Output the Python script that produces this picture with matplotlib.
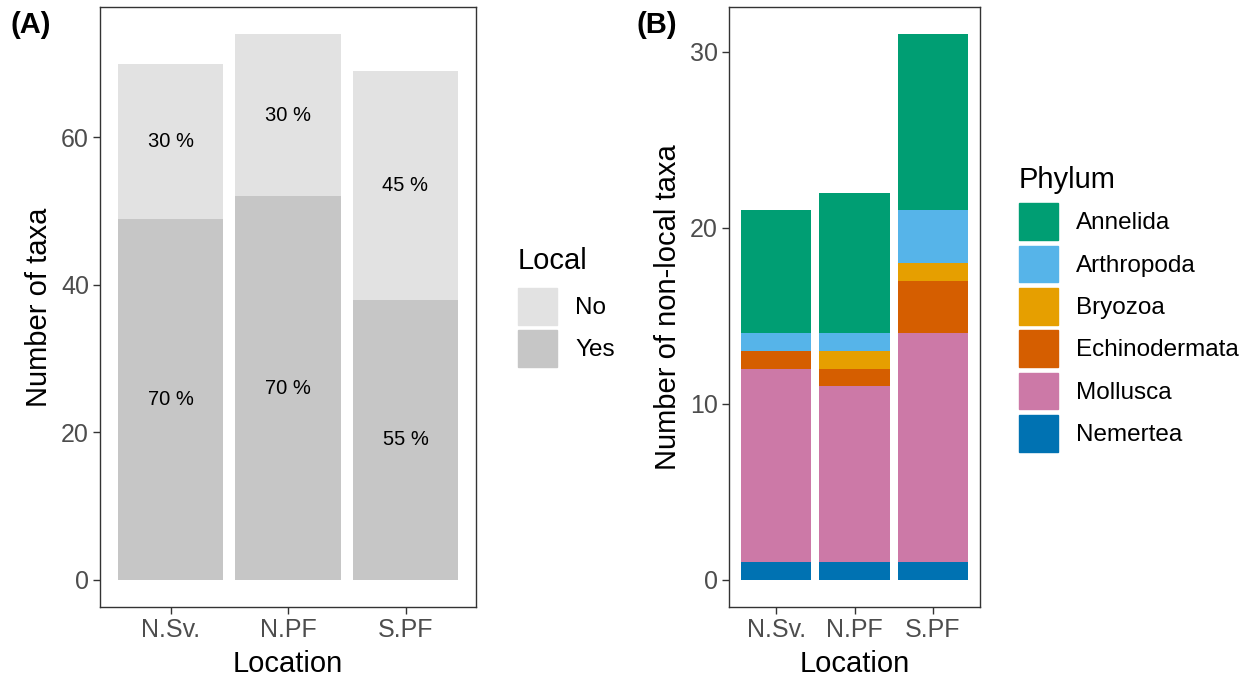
import matplotlib.pyplot as plt
import matplotlib.patches as mpatches
import numpy as np

plt.rcParams['font.family'] = ['Liberation Sans', 'DejaVu Sans']

# ---------- data ----------
locations = ["N.Sv.", "N.PF", "S.PF"]
local_yes = [49, 52, 38]
local_no = [21, 22, 31]

phyla = ["Annelida", "Arthropoda", "Bryozoa", "Echinodermata", "Mollusca", "Nemertea"]
phylum_counts = {
    "Annelida":      [7, 8, 10],
    "Arthropoda":    [1, 1, 3],
    "Bryozoa":       [0, 1, 1],
    "Echinodermata": [1, 1, 3],
    "Mollusca":      [11, 10, 13],
    "Nemertea":      [1, 1, 1],
}
phylum_colors = {
    "Annelida": "#009E73",
    "Arthropoda": "#56B4E9",
    "Bryozoa": "#E69F00",
    "Echinodermata": "#D55E00",
    "Mollusca": "#CC79A7",
    "Nemertea": "#0072B2",
}
col_yes = "#C6C6C6"
col_no = "#E2E2E2"

tick_col = "#4D4D4D"


def style_axes(ax, ylabel):
    for s in ax.spines.values():
        s.set_color("#333333")
        s.set_linewidth(1.0)
    ax.tick_params(axis="both", colors="#333333", labelcolor=tick_col,
                   labelsize=18, length=5, width=1, pad=3)
    ax.set_xlabel("Location", fontsize=21, labelpad=6)
    ax.set_ylabel(ylabel, fontsize=21, labelpad=6)
    ax.set_xlim(0.4, 3.6)


def add_legend(ax, handles, title, x0, y_title, y_keys):
    # ggplot-like legend: title placed separately above the keys
    ax.legend(handles=handles, loc="upper left", bbox_to_anchor=(x0, y_keys),
              frameon=False, fontsize=17.5, handlelength=1.6, handleheight=1.95,
              labelspacing=0.23, handletextpad=0.75, borderaxespad=0, borderpad=0)
    ax.text(x0, y_title, title, transform=ax.transAxes, fontsize=21,
            ha="left", va="top")


fig = plt.figure(figsize=(12.49, 6.78), dpi=100)
W, H = 1249, 678

# ---------- (A) local vs non-local ----------
axA = fig.add_axes([100 / W, 1 - 607 / H, 376 / W, 600 / H])
x = np.arange(1, len(locations) + 1)
axA.bar(x, local_yes, width=0.9, color=col_yes)
axA.bar(x, local_no, width=0.9, bottom=local_yes, color=col_no)
for xi, y, n in zip(x, local_yes, local_no):
    tot = y + n
    axA.text(xi, y / 2, f"{round(100 * y / tot)} %", ha="center", va="center", fontsize=14.5)
    axA.text(xi, y + n / 2, f"{round(100 * n / tot)} %", ha="center", va="center", fontsize=14.5)
top = max(a + b for a, b in zip(local_yes, local_no))
axA.set_ylim(-0.05 * top, 1.05 * top)
axA.set_yticks([0, 20, 40, 60])
axA.set_xticks(x)
axA.set_xticklabels(locations)
style_axes(axA, "Number of taxa")

add_legend(axA,
           [mpatches.Patch(color=col_no, label="No"),
            mpatches.Patch(color=col_yes, label="Yes")],
           "Local", 1.112, 0.600, 0.532)

# ---------- (B) non-local taxa by phylum ----------
axB = fig.add_axes([729 / W, 1 - 607 / H, 251 / W, 600 / H])
bottom = np.zeros(len(locations))
for ph in reversed(phyla):
    vals = np.array(phylum_counts[ph])
    axB.bar(x, vals, width=0.9, bottom=bottom, color=phylum_colors[ph])
    bottom += vals
topB = bottom.max()
axB.set_ylim(-0.05 * topB, 1.05 * topB)
axB.set_yticks([0, 10, 20, 30])
axB.set_xticks(x)
axB.set_xticklabels(locations)
style_axes(axB, "Number of non-local taxa")

add_legend(axB,
           [mpatches.Patch(color=phylum_colors[p], label=p) for p in phyla],
           "Phylum", 1.155, 0.735, 0.673)

# ---------- panel labels ----------
fig.text(11 / W, 1 - 25 / H, "(A)", fontsize=21, weight="bold", va="center", ha="left")
fig.text(636 / W, 1 - 25 / H, "(B)", fontsize=21, weight="bold", va="center", ha="left")

fig.savefig("out.png", dpi=100, facecolor="white")
